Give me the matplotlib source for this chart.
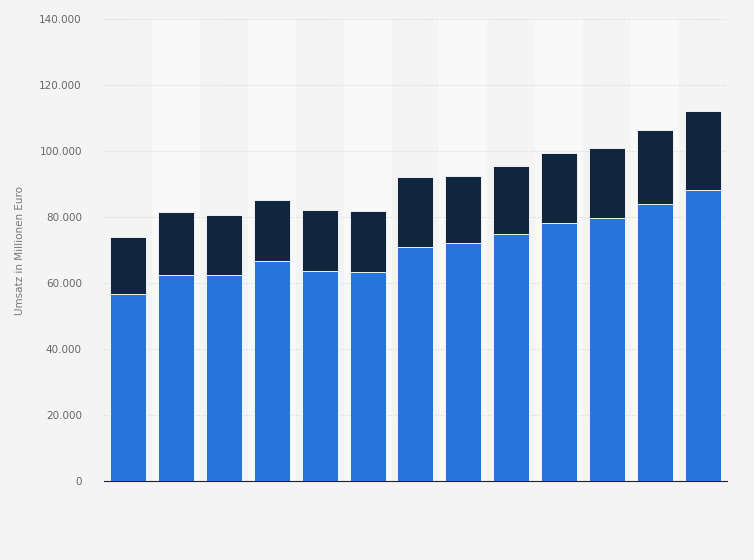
import matplotlib.pyplot as plt
import numpy as np

categories = list(range(1, 14))
blue_vals = [56.7, 62.5, 62.3, 66.8, 63.8, 63.4, 71.0, 72.0, 75.0, 78.2, 79.6, 84.0, 88.2]
total_vals = [74.0, 81.4, 80.5, 85.3, 82.0, 81.7, 92.0, 92.3, 95.4, 99.3, 100.8, 106.5, 112.2]
blue = np.array(blue_vals) * 1000
dark = (np.array(total_vals) - np.array(blue_vals)) * 1000
yticks = [0, 20000, 40000, 60000, 80000, 100000, 120000, 140000]
ylabels = ['0', '20.000', '40.000', '60.000', '80.000', '100.000', '120.000', '140.000']

fig = plt.figure(figsize=(7.54, 5.6), dpi=100)
fig.patch.set_facecolor('#f4f4f4')
ax = fig.add_axes([0.138, 0.141, 0.826, 0.825])
ax.set_facecolor('#f4f4f4')
x = np.arange(len(categories))
for i in x:
    if i % 2 == 1:
        ax.axvspan(i - 0.5, i + 0.5, color='#f9f9f9', zorder=0, lw=0)
ax.bar(x, blue, width=0.75, color='#2775dc', edgecolor='white', linewidth=0.6, zorder=3)
ax.bar(x, dark, bottom=blue, width=0.75, color='#0f263e', edgecolor='white', linewidth=0.6, zorder=3)
ax.set_xlim(-0.5, len(categories) - 0.5)
ax.set_ylim(0, 140000)
ax.set_yticks(yticks)
ax.set_yticklabels(ylabels, fontsize=7.5, color='#666666')
ax.set_xticks([])
ax.grid(axis='y', color='#d8d8d8', linestyle=(0, (1, 1.5)), linewidth=0.8, zorder=1)
for s in ['top', 'right', 'left']:
    ax.spines[s].set_visible(False)
ax.spines['bottom'].set_color('#222222')
ax.tick_params(axis='y', length=0, pad=16)
ax.set_ylabel('Umsatz in Millionen Euro', fontsize=7.5, color='#777777', labelpad=10)
fig.savefig('out.png', dpi=100, facecolor=fig.get_facecolor())
